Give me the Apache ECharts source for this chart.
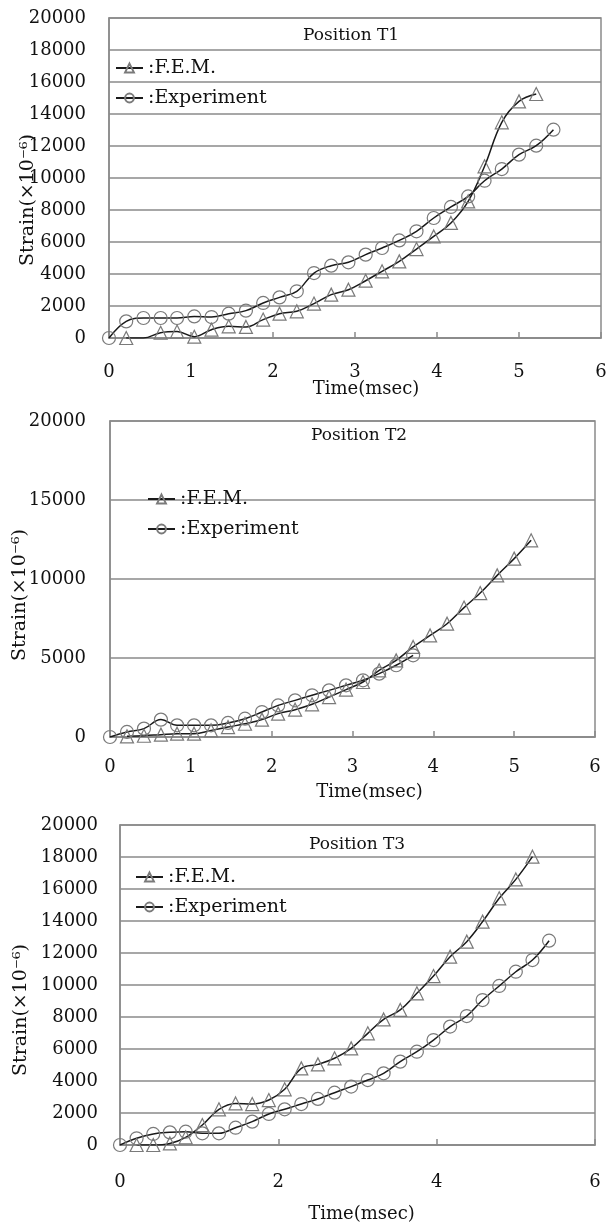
<!DOCTYPE html>
<html><head><meta charset="utf-8">
<script src="https://cdn.jsdelivr.net/npm/echarts@6/dist/echarts.min.js"></script>
<style>html,body{margin:0;padding:0;background:#fff}#c{width:607px;height:1228px}</style>
</head><body><div id="c"></div>
<script>
// Time (msec) of each sample
const time = [0,0.21,0.42,0.63,0.83,1.04,1.25,1.46,1.67,1.88,2.08,2.29,2.50,2.71,2.92,3.13,3.33,3.54,3.75,3.96,4.17,4.38,4.58,4.79,5.00,5.21,5.42];

// Position T1
const t1Fem = [null,0,0,330,400,80,520,730,690,1150,1520,1670,2150,2710,3020,3580,4170,4790,5560,6350,7190,8540,10730,13480,14790,15250,null];
const t1Exp = [0,1040,1250,1250,1250,1350,1310,1520,1710,2190,2540,2920,4060,4520,4730,5210,5625,6100,6670,7500,8190,8850,9830,10560,11460,12020,13020];
const t1FemHidden = [2];

// Position T2
const t2Fem = [null,40,80,150,210,210,420,630,840,1100,1480,1730,2070,2530,3000,3480,4220,4850,5700,6430,7170,8190,9110,10230,11290,12450,null];
const t2Exp = [0,320,530,1100,740,740,740,890,1160,1580,2000,2320,2640,2950,3270,3590,4010,4540,5170,null,null,null,null,null,null,null,null];

// Position T3
const t3Fem = [null,0,0,100,480,1250,2230,2600,2560,2810,3480,4790,5040,5420,6040,6980,7850,8440,9480,10560,11770,12710,13960,15420,16600,18020,null];
const t3Exp = [0,420,690,790,830,730,730,1080,1460,1940,2230,2560,2880,3270,3650,4060,4480,5210,5830,6560,7400,8060,9060,9940,10830,11560,12770];

const panelTitles = ['Position T1','Position T2','Position T3'];
const seriesNames = ['F.E.M.','Experiment'];
const yIntervals = [2000,5000,2000];
const xIntervals = [1,1,2];
const xName = 'Time(msec)';
const yName = 'Strain(×10⁻⁶)';

const FONT = 'DejaVu Serif';
const TXT = '#111';
const GRAY = '#8a8a8a';

function pairs(vals, hidden) {
  const out = [];
  vals.forEach((v, i) => {
    if (v === null) return;
    if (hidden && hidden.indexOf(i) >= 0) out.push({value: [time[i], v], symbol: 'none'});
    else out.push([time[i], v]);
  });
  return out;
}

const grids = [
  {left:109, right:6, top:18, height:320},
  {left:110, right:12, top:421, height:316},
  {left:120, right:12, top:825, height:320}
];
const xLabelMargin = [25, 21, 28];
const xNameGap = [42, 46, 60];
const xNamePad = [22, 34, 8];
const yNameGap = [71, 80, 89];
const yNameShift = [44, 32, 50];
const yLabelMargin = [23, 24, 22];
const titlePos = [[303, 27], [311, 427], [309, 836]];
const legendPos = [[115, 58], [147, 489], [135, 867]];

const data = [
  [pairs(t1Fem, t1FemHidden), pairs(t1Exp)],
  [pairs(t2Fem), pairs(t2Exp)],
  [pairs(t3Fem), pairs(t3Exp)]
];

const option = {
  animation: false,
  backgroundColor: '#fff',
  title: panelTitles.map((t, i) => ({
    text: t, left: titlePos[i][0], top: titlePos[i][1], padding: 0,
    textStyle: {fontFamily: FONT, fontSize: 17, fontWeight: 'normal', color: TXT}
  })),
  legend: [0,1,2].map(i => ({
    orient: 'vertical', left: legendPos[i][0], top: legendPos[i][1], padding: 0,
    itemGap: 10, itemWidth: 27, itemHeight: 11,
    data: seriesNames,
    formatter: ':{name}',
    selectedMode: false,
    textStyle: {fontFamily: FONT, fontSize: 19, color: TXT, lineHeight: 20}
  })),
  grid: grids.map(g => Object.assign({show: true, borderColor: GRAY, borderWidth: 1.5, backgroundColor: 'transparent', containLabel: false, outerBoundsMode: 'none'}, g)),
  xAxis: [0,1,2].map(i => ({
    type: 'value', gridIndex: i, min: 0, max: 6, interval: xIntervals[i],
    name: xName, nameLocation: 'middle', nameGap: xNameGap[i], nameMoveOverlap: false,
    nameTextStyle: {fontFamily: FONT, fontSize: 18, color: TXT, padding: [0,0,0,xNamePad[i]]},
    axisLine: {show: true, onZero: false, lineStyle: {color: GRAY, width: 1.5}},
    axisTick: {show: true, inside: true, length: 6, lineStyle: {color: GRAY, width: 1.5}},
    axisLabel: {fontFamily: FONT, fontSize: 18, color: TXT, margin: xLabelMargin[i], formatter: v => String(v)},
    splitLine: {show: false}
  })),
  yAxis: [0,1,2].map(i => ({
    type: 'value', gridIndex: i, min: 0, max: 20000, interval: yIntervals[i],
    name: yName, nameLocation: 'middle', nameGap: yNameGap[i], nameRotate: 90, nameMoveOverlap: false,
    nameTextStyle: {fontFamily: FONT, fontSize: 19, color: TXT, padding: [0, yNameShift[i], 0, 0]},
    axisLine: {show: true, lineStyle: {color: GRAY, width: 1.5}},
    axisTick: {show: false},
    axisLabel: {fontFamily: FONT, fontSize: 18, color: TXT, margin: yLabelMargin[i], formatter: v => String(v)},
    splitLine: {show: true, lineStyle: {color: GRAY, width: 1.5}}
  })),
  series: []
};

[0,1,2].forEach(i => {
  ['triangle','circle'].forEach((sym, k) => {
    option.series.push({
      type: 'line', name: seriesNames[k], xAxisIndex: i, yAxisIndex: i,
      data: data[i][k], smooth: 0.4, symbol: sym, symbolSize: 13,
      showAllSymbol: true, clip: true,
      lineStyle: {color: '#1a1a1a', width: 1.5},
      itemStyle: {color: 'rgba(255,255,255,0)', borderColor: '#7a7a7a', borderWidth: 1.2},
      emphasis: {disabled: true}
    });
  });
});

const chart = echarts.init(document.getElementById('c'), null, {renderer: 'canvas'});
chart.setOption(option);
</script>
</body></html>
